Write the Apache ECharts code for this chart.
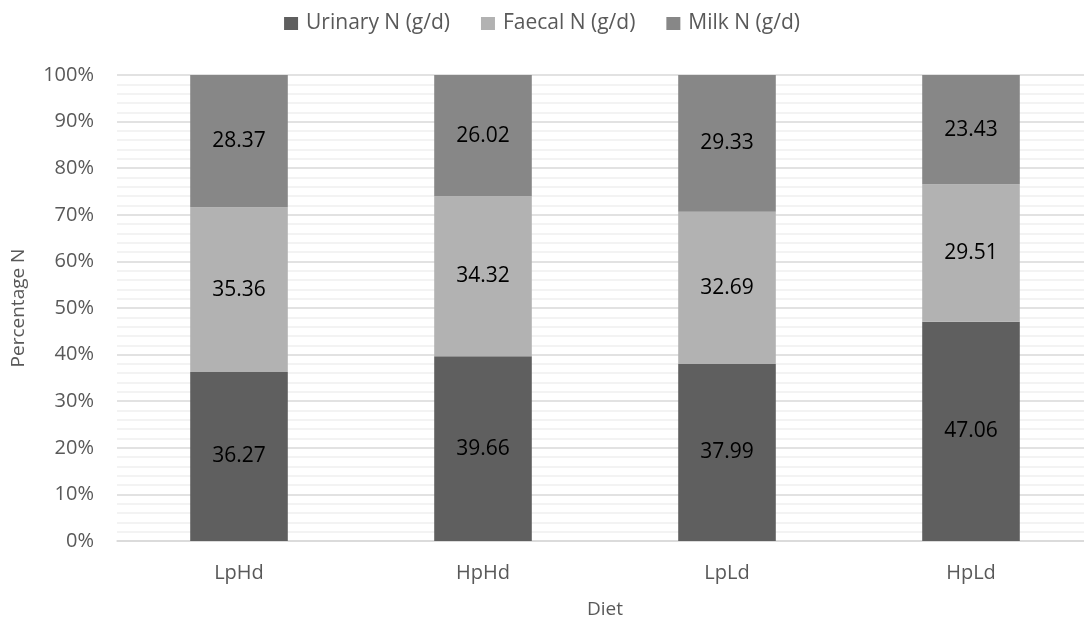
<!DOCTYPE html>
<html>
<head>
<meta charset="utf-8">
<script src="https://cdn.jsdelivr.net/npm/echarts@6/dist/echarts.min.js"></script>
<style>
  html, body { margin: 0; padding: 0; background: #fff; }
  #chart { width: 1084px; height: 622px; }
</style>
</head>
<body>
<div id="chart"></div>
<script>
// Nitrogen partitioning by diet (share of total N, %)
const diets = ['LpHd', 'HpHd', 'LpLd', 'HpLd'];
const urinaryN = [36.27, 39.66, 37.99, 47.06];
const faecalN = [35.36, 34.32, 32.69, 29.51];
const milkN = [28.37, 26.02, 29.33, 23.43];
const yTicks = [0, 10, 20, 30, 40, 50, 60, 70, 80, 90, 100];

const FONT = '"Open Sans", "Noto Sans", sans-serif';
const GREY_TEXT = '#595959';

function barSeries(name, data, color) {
  return {
    name: name,
    type: 'bar',
    stack: 'total',
    data: data,
    barWidth: '40%',
    itemStyle: { color: color },
    label: {
      show: true,
      position: 'inside',
      color: '#000',
      fontFamily: FONT,
      fontSize: 21,
      formatter: p => p.value.toFixed(2)
    }
  };
}

const chart = echarts.init(document.getElementById('chart'), null, { renderer: 'canvas' });
chart.setOption({
  animation: false,
  textStyle: { fontFamily: FONT },
  legend: {
    top: 8,
    left: 'center',
    itemWidth: 14,
    itemHeight: 13,
    itemGap: 31,
    icon: 'rect',
    textStyle: { color: GREY_TEXT, fontSize: 21, fontFamily: FONT, padding: [0, 0, 0, 3] }
  },
  grid: {
    left: 117, top: 75, width: 976, height: 466,
    containLabel: false,
    outerBoundsMode: 'none'
  },
  xAxis: {
    type: 'category',
    data: diets,
    name: 'Diet',
    nameLocation: 'middle',
    nameGap: 59,
    nameTextStyle: { color: GREY_TEXT, fontSize: 19, fontFamily: FONT },
    axisLine: { show: true, lineStyle: { color: '#d9d9d9', width: 1.5 } },
    axisTick: { show: false },
    axisLabel: { color: GREY_TEXT, fontSize: 20, margin: 22, fontFamily: FONT }
  },
  yAxis: {
    type: 'value',
    min: yTicks[0],
    max: yTicks[yTicks.length - 1],
    interval: 10,
    name: 'Percentage N',
    nameLocation: 'middle',
    nameGap: 89,
    nameTextStyle: { color: GREY_TEXT, fontSize: 19, fontFamily: FONT },
    axisLine: { show: false },
    axisTick: { show: false },
    axisLabel: { color: GREY_TEXT, fontSize: 20, margin: 23, fontFamily: FONT, formatter: '{value}%' },
    splitLine: { show: true, lineStyle: { color: '#d9d9d9', width: 1.5 } },
    minorTick: { show: false, splitNumber: 5 },
    minorSplitLine: { show: true, lineStyle: { color: '#f0f0f0', width: 1.5 } }
  },
  series: [
    barSeries('Urinary N (g/d)', urinaryN, '#5f5f5f'),
    barSeries('Faecal N (g/d)', faecalN, '#b2b2b2'),
    barSeries('Milk N (g/d)', milkN, '#878787')
  ]
});
</script>
</body>
</html>
